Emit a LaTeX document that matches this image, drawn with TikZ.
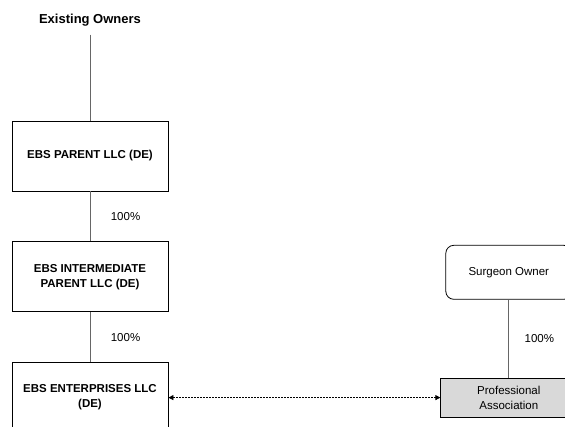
\documentclass[tikz,border=0pt]{standalone}
\usepackage{fontspec}
\setmainfont{Liberation Sans}
\usetikzlibrary{shapes,arrows.meta,positioning}
\definecolor{assoc}{rgb}{.85,.85,.85}
\definecolor{wire}{rgb}{.4,.4,.4}

\begin{document}
\begin{tikzpicture}[x=1pt,y=-1pt,% styles for all boxes and lines
			every node/.style={
				align=center,  		% "\\" breaks the line
				text=black,
				font=\fontsize{11.5}{15}\selectfont
			},
			entity/.style={rectangle,draw=black,line width=0.8pt,minimum width=156pt,minimum height=70pt,
				font=\fontsize{11.5}{15}\selectfont\bfseries},
			every edge/.style={draw,wire,line width=1pt}
		]
		\useasboundingbox (0,0) rectangle (565,426);
		\node[entity](R1) at (90,156){EBS PARENT LLC (DE)};
		\node[entity](R2)[below=50pt of R1]{EBS INTERMEDIATE \\ PARENT LLC (DE)};
		\node[entity](R3)[below=50pt of R2]{EBS ENTERPRISES LLC \\ (DE)};
		\node[inner sep=8pt,font=\fontsize{13}{15}\selectfont\bfseries](R0)[above=86pt of R1]{Existing Owners};
		\node[rectangle,draw=black,line width=0.8pt,fill=assoc,minimum width=136pt,minimum height=39pt](R5)[right=272pt of R3]{Professional \\ Association};
		\node[rectangle,rounded corners=8pt,draw=black,line width=0.8pt,minimum width=126pt,minimum height=54pt](R4)[above=78pt of R5]{Surgeon Owner};
		\path
		(R0)edge []	node [] {} (R1)
		(R1)edge []	node [right=17pt] {100\%} (R2)
		(R2)edge []	node [right=17pt] {100\%} (R3)
		(R4)edge []	node [right=12pt] {100\%} (R5)
		;
		\draw[black,line width=0.8pt,dash pattern=on 2pt off 1pt,{Triangle[length=5pt,width=5pt]}-{Triangle[length=5pt,width=5pt]}] (R3) -- (R5);
	\end{tikzpicture}
\end{document}
